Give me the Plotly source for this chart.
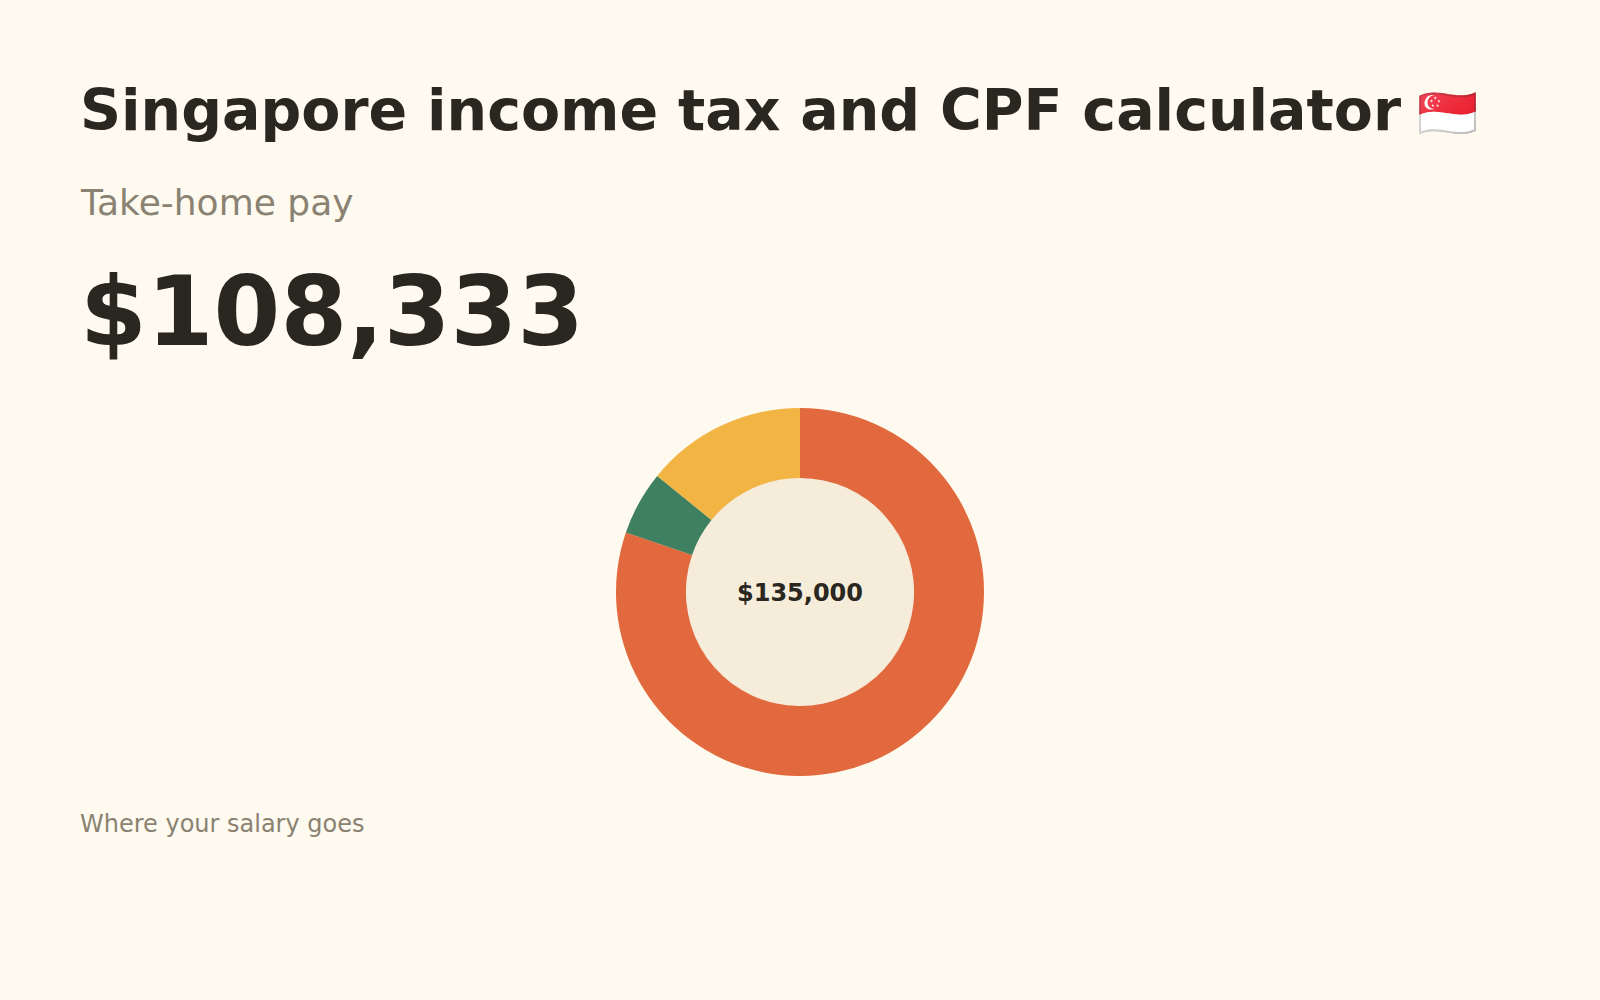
import plotly.graph_objects as go

# Salary breakdown (annual, SGD)
gross_salary = 135000
labels = ["Take-home pay", "Income tax", "CPF contribution"]
values = [108333, 7583, 19084]
colors = ["#E2693E", "#3F8060", "#F2B544"]

bg = "#FFFAEF"
ink = "#2A2620"
muted = "#8A8272"
font = "DejaVu Sans"

pie_domain = dict(x=[0.385, 0.615], y=[0.224, 0.592])

fig = go.Figure()

# filled disc behind the donut so the hole gets its own tint
fig.add_trace(go.Pie(
    values=[gross_salary],
    labels=["Gross salary"],
    marker=dict(colors=["#F5ECDA"], line=dict(width=0)),
    textinfo="none",
    hoverinfo="skip",
    sort=False,
    domain=pie_domain,
    showlegend=False,
))

fig.add_trace(go.Pie(
    values=values,
    labels=labels,
    hole=0.62,
    sort=False,
    direction="clockwise",
    rotation=0,
    marker=dict(colors=colors, line=dict(width=0)),
    textinfo="none",
    hovertemplate="%{label}: $%{value:,}<extra></extra>",
    domain=pie_domain,
    showlegend=False,
))

fig.add_annotation(
    text="<b>$%s</b>" % format(gross_salary, ","),
    x=0.5, y=0.407, xref="paper", yref="paper",
    xanchor="center", yanchor="middle", showarrow=False,
    font=dict(family=font, size=24, color=ink),
)

left = 0.049
title = ("<b>Singapore income tax and CPF calculator</b>"
         "<span style='font-size:49px'> 🇸🇬</span>")
texts = [
    (title, 0.890, 57, ink),
    ("Take-home pay", 0.797, 36, muted),
    ("<b>$%s</b>" % format(values[0], ","), 0.688, 96, ink),
    ("Where your salary goes", 0.176, 24, muted),
]
for txt, y, size, col in texts:
    fig.add_annotation(
        text=txt, x=left, y=y, xref="paper", yref="paper",
        xanchor="left", yanchor="middle", showarrow=False,
        font=dict(family=font, size=size, color=col),
    )

fig.update_layout(
    width=1600,
    height=1000,
    margin=dict(l=0, r=0, t=0, b=0),
    paper_bgcolor=bg,
    plot_bgcolor=bg,
    showlegend=False,
)

fig.write_html(
    "out.html",
    config={"displayModeBar": False},
    post_script="document.body.style.margin='0';"
                "document.body.style.background='%s';" % bg,
)
